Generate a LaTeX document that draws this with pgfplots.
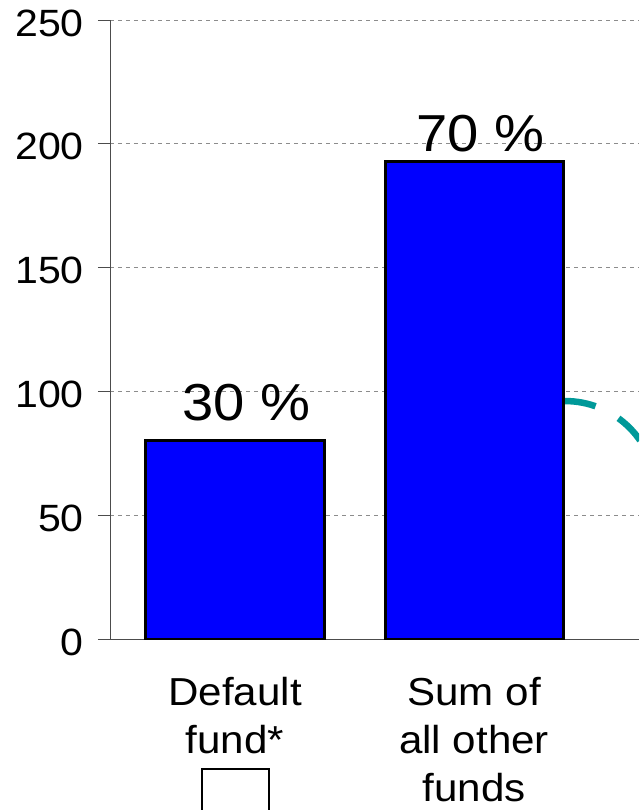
\documentclass[border=0pt]{standalone}
\usepackage{fontspec}
\setmainfont{Liberation Sans}[FakeStretch=1.08]
\usepackage{pgfplots}
\pgfplotsset{compat=1.18}

\definecolor{barblue}{RGB}{0,0,255}
\definecolor{arcteal}{RGB}{0,153,153}
\definecolor{gridgray}{RGB}{140,140,140}

\begin{document}
\begin{tikzpicture}
\useasboundingbox (-110pt,-171pt) rectangle (529pt,639pt);
\begin{axis}[
  at={(0,0)}, anchor=south west,
  scale only axis,
  width=529pt, height=619pt,
  xmin=-0.523, xmax=1.690,
  ymin=0, ymax=250,
  axis lines*=left,
  axis line style={black!70, line width=0.8pt, -},
  ytick={0,50,...,250},
  xtick={0,1},
  xticklabels={{Default\\fund*},{Sum of\\all other\\funds}},
  tick align=outside,
  major tick length=12pt,
  tick style={black!70, line width=0.8pt},
  xtick style={draw=none},
  ymajorgrids,
  grid style={gridgray, line width=0.6pt, dash pattern=on 4pt off 4pt},
  yticklabel style={anchor=east, inner sep=0pt, xshift=-14pt, yshift=-3pt,
    font=\fontsize{38}{40}\selectfont},
  xticklabel style={anchor=north, inner sep=0pt, yshift=-26pt, align=center,
    font=\fontsize{39}{48}\selectfont},
  /pgf/number format/assume math mode=true,
]
% dashed connector arc, partly hidden behind the second bar
\draw[arcteal, line width=6.5pt, dash pattern=on 31pt off 26pt]
  (axis cs:1.381,96.1) arc[start angle=90, end angle=5, radius=91pt];

\addplot[ybar, bar width=0.745, fill=barblue, draw=black, line width=3pt]
  coordinates {(0,80) (1,193)};

\node[anchor=base, inner sep=0pt, font=\fontsize{52}{56}\selectfont]
  at (axis cs:0.046,88.4) {30 \%};
\node[anchor=base, inner sep=0pt, font=\fontsize{52}{56}\selectfont]
  at (axis cs:1.025,196.7) {70 \%};
\end{axis}
% empty frame under the first category
\draw[black, line width=1.2pt] (92pt,-180pt) rectangle (159pt,-130pt);
\end{tikzpicture}
\end{document}
